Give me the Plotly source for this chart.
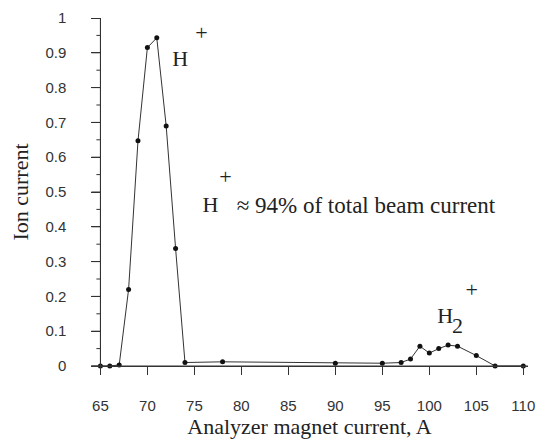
import plotly.graph_objects as go

magnet_current = [65, 66, 67, 68, 69, 70, 71, 72, 73, 74, 78, 90, 95, 97, 98, 99, 100, 101, 102, 103, 105, 107, 110]
ion_current = [0.0, 0.0, 0.003, 0.22, 0.647, 0.915, 0.943, 0.69, 0.338, 0.01, 0.012, 0.008, 0.008, 0.01, 0.02, 0.057, 0.037, 0.05, 0.06, 0.057, 0.03, 0.0, 0.0]

x_ticks = [65, 70, 75, 80, 85, 90, 95, 100, 105, 110]
x_minor_ticks = [67.5, 72.5, 77.5, 82.5, 87.5, 92.5, 97.5, 102.5, 107.5]
y_ticks = [0, 0.1, 0.2, 0.3, 0.4, 0.5, 0.6, 0.7, 0.8, 0.9, 1]
y_tick_labels = ["0", "0.1", "0.2", "0.3", "0.4", "0.5", "0.6", "0.7", "0.8", "0.9", "1"]
y_minor_ticks = [0.05, 0.15, 0.25, 0.35, 0.45, 0.55, 0.65, 0.75, 0.85, 0.95]

label_texts = ["H", "+", "H", "+", "H", "2", "+"]
label_x = [73.5, 75.75, 76.7, 78.3, 101.7, 103.0, 104.5]
label_y = [0.879, 0.954, 0.457, 0.540, 0.138, 0.112, 0.2155]
note_text = "\u2248 94% of total beam current"
note_x, note_y = 79.5, 0.457

serif = "Liberation Serif, Times New Roman, serif"
sans = "Liberation Sans, Arial, sans-serif"
axis_col = "#333333"

XMIN, XMAX = 64, 110.5
Y_AXIS_AT = x_ticks[0]
ypos = (Y_AXIS_AT - XMIN) / (XMAX - XMIN)

fig = go.Figure()
fig.add_trace(go.Scatter(
    x=magnet_current, y=ion_current, mode="lines+markers",
    line=dict(color="#333333", width=1),
    marker=dict(color="#111111", size=5),
    cliponaxis=False, showlegend=False, hoverinfo="x+y",
))

tf = dict(family=serif, size=22, color="#222222")
fig.add_trace(go.Scatter(x=label_x, y=label_y, mode="text", text=label_texts,
                         textposition="middle center", textfont=tf, cliponaxis=False,
                         showlegend=False, hoverinfo="skip"))
fig.add_trace(go.Scatter(x=[note_x], y=[note_y], mode="text", text=[note_text],
                         textposition="middle right", textfont=dict(family=serif, size=23, color="#222222"),
                         cliponaxis=False, showlegend=False, hoverinfo="skip"))

fig.update_layout(
    width=538, height=445,
    margin=dict(l=91, r=10, t=18, b=79, autoexpand=False),
    paper_bgcolor="white", plot_bgcolor="rgba(0,0,0,0)",
    xaxis=dict(
        range=[XMIN, XMAX], tickvals=x_ticks, ticks="outside", ticklen=8, tickwidth=1,
        tickcolor=axis_col, showline=True, linecolor=axis_col, linewidth=1,
        showgrid=False, zeroline=False,
        tickfont=dict(family=sans, size=15, color="#333"),
        ticklabelstandoff=18,
        title=dict(text="Analyzer magnet current, A", font=dict(family=serif, size=22, color="#222"), standoff=2),
    ),
    yaxis=dict(
        range=[0, 1], tickvals=y_ticks, ticktext=y_tick_labels, ticks="outside", ticklen=9, tickwidth=1,
        tickcolor=axis_col, showline=True, linecolor=axis_col, linewidth=1,
        showgrid=False, zeroline=False, anchor="free", position=ypos,
        tickfont=dict(family=sans, size=15, color="#333"),
        ticklabelstandoff=22,
        title=dict(text="Ion current", font=dict(family=serif, size=22, color="#222"), standoff=9),
    ),
)

# axis frame drawn as shapes as well (axis lines and tick marks)
line_style = dict(color=axis_col, width=1)
fig.add_shape(type="line", xref="x domain", yref="y", x0=0, x1=1, y0=0, y1=0, line=line_style, layer="above")
fig.add_shape(type="line", xref="x", yref="y domain", x0=Y_AXIS_AT, x1=Y_AXIS_AT, y0=0, y1=1, line=line_style, layer="above")
for t in x_ticks:
    fig.add_shape(type="line", xref="x", yref="y", x0=t, x1=t, ysizemode="pixel", yanchor=0, y0=0, y1=-8,
                  line=line_style, layer="above")
for t in x_minor_ticks:
    fig.add_shape(type="line", xref="x", yref="y", x0=t, x1=t, ysizemode="pixel", yanchor=0, y0=0, y1=-4,
                  line=line_style, layer="above")
for t in y_ticks:
    fig.add_shape(type="line", xref="x", yref="y", y0=t, y1=t, xsizemode="pixel", xanchor=Y_AXIS_AT, x0=0, x1=-9,
                  line=line_style, layer="above")
for t in y_minor_ticks:
    fig.add_shape(type="line", xref="x", yref="y", y0=t, y1=t, xsizemode="pixel", xanchor=Y_AXIS_AT, x0=0, x1=-4,
                  line=line_style, layer="above")

fig.write_html("out.html", config={"displayModeBar": False},
               post_script="document.body.style.margin='0';")
